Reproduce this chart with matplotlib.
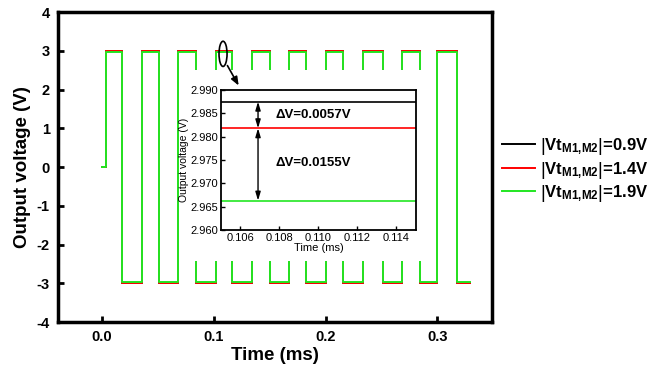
import numpy as np
import matplotlib
matplotlib.use("Agg")
import matplotlib.pyplot as plt
from matplotlib.patches import Ellipse, Rectangle

plt.rcParams['font.family'] = ['Liberation Sans', 'DejaVu Sans']
plt.rcParams['mathtext.fontset'] = 'custom'
plt.rcParams['mathtext.rm'] = 'Liberation Sans'
plt.rcParams['mathtext.bf'] = 'Liberation Sans:bold'
plt.rcParams['mathtext.it'] = 'Liberation Sans:italic'
plt.rcParams['axes.unicode_minus'] = False

# ---- data (ms, V) ----
rise_times = [0.0036, 0.0361, 0.0683, 0.1018, 0.1346, 0.1677, 0.2005, 0.2334, 0.2686, 0.2999]
fall_times = [0.0182, 0.0506, 0.0839, 0.1167, 0.1504, 0.1826, 0.2160, 0.2513, 0.2847, 0.3178]
t_start = 0.0
t_end = 0.3295
high_levels = [2.9875, 2.9818, 2.9663]
low_levels = [-2.9875, -2.9818, -2.9663]
labels = [r'$\left|\mathbf{Vt_{M1{,}M2}}\right|$=0.9V',
          r'$\left|\mathbf{Vt_{M1{,}M2}}\right|$=1.4V',
          r'$\left|\mathbf{Vt_{M1{,}M2}}\right|$=1.9V']
colors = ['black', '#ff0000', '#22e622']
dv_upper = 0.0057
dv_lower = 0.0155
main_xticks = [0.0, 0.1, 0.2, 0.3]
main_yticks = [-4, -3, -2, -1, 0, 1, 2, 3, 4]
inset_xticks = [0.106, 0.108, 0.110, 0.112, 0.114]
inset_yticks = [2.960, 2.965, 2.970, 2.975, 2.980, 2.985, 2.990]


def waveform(hi, lo):
    t = [t_start]
    v = [0.0]
    for r, f in zip(rise_times, fall_times):
        t += [r, f]
        v += [hi, lo]
    t.append(t_end)
    v.append(lo)
    return np.array(t), np.array(v)


fig = plt.figure(figsize=(6.62, 3.75), dpi=100)
ax = fig.add_axes([0.0876, 0.1413, 0.6556, 0.8267])

for hi, lo, c, lab in zip(high_levels, low_levels, colors, labels):
    t, v = waveform(hi, lo)
    ax.step(t, v, where='post', color=c, lw=1.4, label=lab, zorder=2)

ax.set_xlim(-0.0394, 0.349)
ax.set_ylim(-4, 4)
ax.set_xticks(main_xticks)
ax.set_xticklabels([f"{x:.1f}" for x in main_xticks])
ax.set_yticks(main_yticks)
ax.tick_params(direction='in', length=4, width=2, labelsize=10.5, pad=6)
for lbl in ax.get_xticklabels() + ax.get_yticklabels():
    lbl.set_fontweight('bold')
for s in ax.spines.values():
    s.set_linewidth(2.5)
ax.set_xlabel('Time (ms)', fontsize=13.5, fontweight='bold', labelpad=2)
ax.set_ylabel('Output voltage (V)', fontsize=13.5, fontweight='bold', labelpad=4)

# white area behind inset
ax.add_patch(Rectangle((0.273, 0.305), 0.373, 0.508, transform=fig.transFigure,
                       facecolor='white', edgecolor='none', zorder=5, clip_on=False))

# ellipse + arrow
ax.add_patch(Ellipse((0.1083, 2.92), 0.0072, 0.65, fill=False, edgecolor='black', lw=1.2, zorder=6))
ax.annotate('', xy=(0.1235, 2.04), xytext=(0.111, 2.68),
            arrowprops=dict(arrowstyle='-|>,head_length=0.5,head_width=0.2', color='black', lw=1.2),
            zorder=7, annotation_clip=False)

fig.legend(loc='upper left', bbox_to_anchor=(0.748, 0.655), frameon=False,
           prop={'weight': 'bold', 'size': 12}, handlelength=2.0, handletextpad=0.3,
           labelspacing=0.15, borderaxespad=0)

# inset
axi = fig.add_axes([0.3338, 0.3867, 0.2946, 0.3733])
axi.set_zorder(3)
for hi, lo, c in zip(high_levels, low_levels, colors):
    t, v = waveform(hi, lo)
    axi.step(t, v, where='post', color=c, lw=1.2)
axi.set_xlim(0.105, 0.115)
axi.set_ylim(2.960, 2.990)
axi.set_xticks(inset_xticks)
axi.set_xticklabels([f"{x:.3f}" for x in inset_xticks])
axi.set_yticks(inset_yticks)
axi.set_yticklabels([f"{y:.3f}" for y in inset_yticks])
axi.tick_params(direction='in', length=3, width=1, labelsize=8, pad=2)
for s in axi.spines.values():
    s.set_linewidth(1.3)
axi.set_xlabel('Time (ms)', fontsize=8, labelpad=0)
axi.set_ylabel('Output voltage (V)', fontsize=7.5, labelpad=1)

x_arrow = 0.1069
axi.annotate('', xy=(x_arrow, high_levels[1]), xytext=(x_arrow, high_levels[0]),
             arrowprops=dict(arrowstyle='<|-|>,head_length=0.5,head_width=0.15', color='black', lw=1.0,
                             shrinkA=0, shrinkB=0))
axi.annotate('', xy=(x_arrow, high_levels[2]), xytext=(x_arrow, high_levels[1]),
             arrowprops=dict(arrowstyle='<|-|>,head_length=0.5,head_width=0.15', color='black', lw=1.0,
                             shrinkA=0, shrinkB=0))
axi.text(0.1078, 2.9846, f'ΔV={dv_upper:.4f}V', fontsize=9.5, fontweight='bold', va='center', ha='left')
axi.text(0.1078, 2.9743, f'ΔV={dv_lower:.4f}V', fontsize=9.5, fontweight='bold', va='center', ha='left')

fig.savefig('out.png', dpi=100)
